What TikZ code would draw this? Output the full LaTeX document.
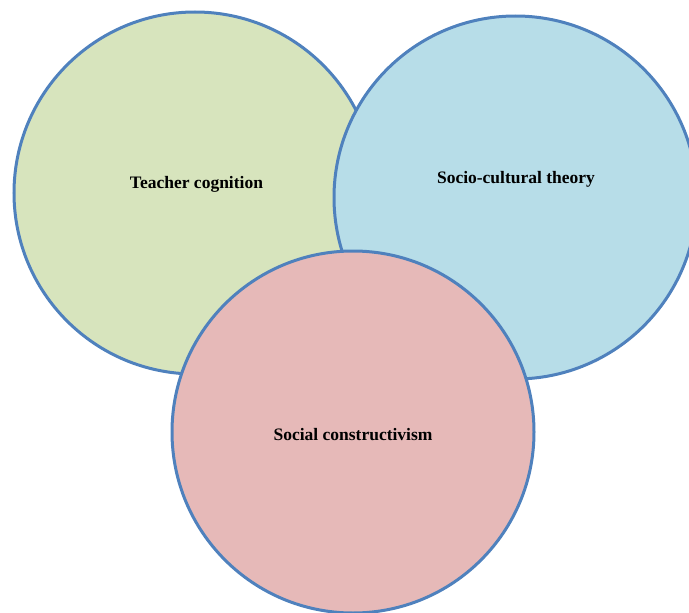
\documentclass[tikz,border=0pt]{standalone}
\usepackage{fontspec}
\setmainfont{Liberation Serif}
\usepackage{tikz}
\definecolor{vennline}{HTML}{4F81BD}
\definecolor{greenfill}{HTML}{D7E4BD}
\definecolor{bluefill}{HTML}{B7DDE8}
\definecolor{pinkfill}{HTML}{E6B9B8}
\begin{document}
\begin{tikzpicture}[x=1pt,y=-1pt,
  venn/.style={circle,draw=vennline,line width=3pt,inner sep=0pt,minimum size=#1},
  vtext/.style={font=\fontsize{17.5}{21}\selectfont\bfseries}]
\useasboundingbox (0,0) rectangle (689,613);
\clip (0,0) rectangle (689,613);
\node [venn=362pt,fill=greenfill] (cognition) at (195,193) {};
\node [venn=363pt,fill=bluefill] (sociocult) at (515.5,197.5) {};
\node [venn=362pt,fill=pinkfill] (constructivism) at (353,432) {};
\node [vtext] (cognitiontext) at (196.5,184) {Teacher cognition};
\node [vtext] (sociocultext) at (516,179) {Socio-cultural theory};
\node [vtext] (constructtext) at (353,435) {Social constructivism};
\end{tikzpicture}
\end{document}
